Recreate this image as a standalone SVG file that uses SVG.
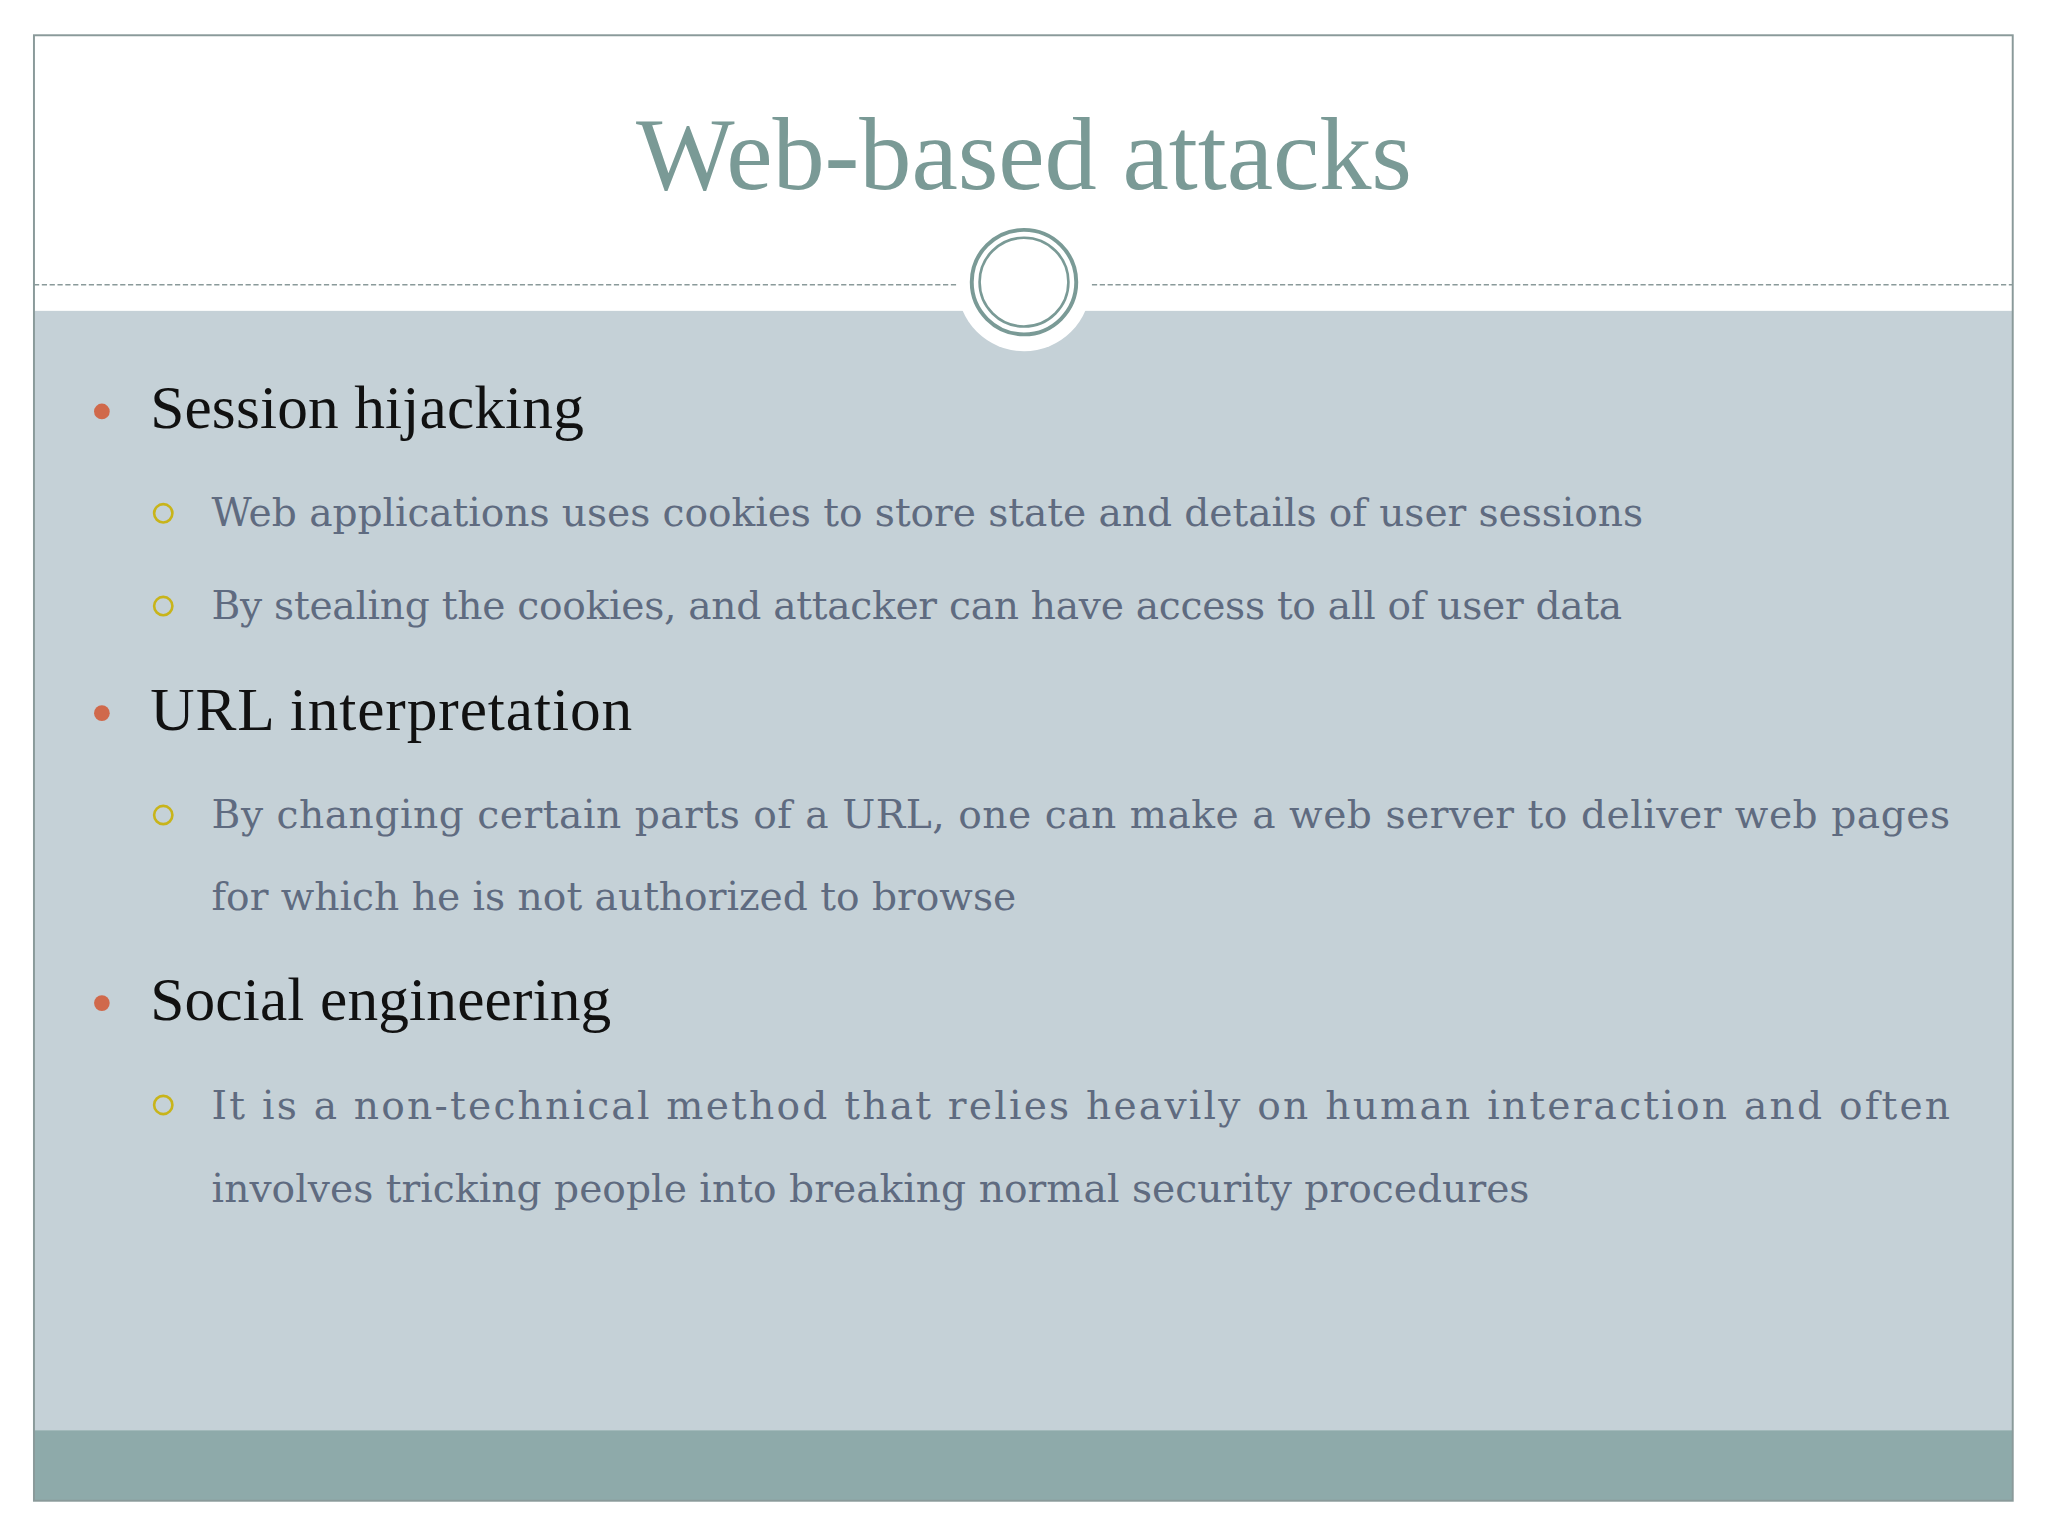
<svg xmlns="http://www.w3.org/2000/svg" width="2048" height="1536" viewBox="0 0 2048 1536">
<style>
.b{fill:#d0694b}
.s{fill:none;stroke:#c8b41a;stroke-width:2}
.h{font-family:"Liberation Serif","DejaVu Serif",serif;font-size:47px;fill:#111}
.t{font-family:"DejaVu Serif","Liberation Serif",serif;font-size:30px;fill:#5f6b80}
</style>
<rect width="2048" height="1536" fill="#fff"/>
<g transform="scale(1.30612)">
<g id="frame">
<rect x="26" y="238" width="1515" height="857" fill="#c5d1d7"/>
<rect x="26" y="1095" width="1515" height="54" fill="#8eaaaa"/>
<rect x="26" y="27" width="1515" height="1122" fill="none" stroke="#8a9a9a" stroke-width="1.5"/>
<line x1="26" y1="218" x2="1541" y2="218" stroke="#8a9a9a" stroke-width="1" stroke-dasharray="4,2"/>
<circle cx="784" cy="218" r="51" fill="#fff"/>
<circle cx="784" cy="216" r="40" fill="none" stroke="#7a9a96" stroke-width="3"/>
<circle cx="784" cy="216" r="34" fill="none" stroke="#7a9a96" stroke-width="2"/>
</g>
<g id="title"><text x="784" y="145" text-anchor="middle" font-family="Liberation Serif, DejaVu Serif, serif" font-size="80" fill="#7a9a96" textLength="594">Web-based attacks</text></g>
<g id="b1">
<circle class="b" cx="78" cy="315" r="6"/>
<text class="h" x="115" y="328" textLength="332">Session hijacking</text>
<circle class="s" cx="125" cy="393" r="7"/>
<text class="t" x="162" y="403" textLength="1096">Web applications uses cookies to store state and details of user sessions</text>
<circle class="s" cx="125" cy="464" r="7"/>
<text class="t" x="162" y="474" textLength="1080">By stealing the cookies, and attacker can have access to all of user data</text>
</g>
<g id="b2">
<circle class="b" cx="78" cy="546" r="6"/>
<text class="h" x="115" y="559" textLength="369">URL interpretation</text>
<circle class="s" cx="125" cy="624" r="7"/>
<text class="t" x="162" y="634" textLength="1331" lengthAdjust="spacing">By changing certain parts of a URL, one can make a web server to deliver web pages</text>
<text class="t" x="162" y="697" textLength="616">for which he is not authorized to browse</text>
</g>
<g id="b3">
<circle class="b" cx="78" cy="768" r="6"/>
<text class="h" x="115" y="781" textLength="353">Social engineering</text>
<circle class="s" cx="125" cy="846" r="7"/>
<text class="t" x="162" y="857" textLength="1331" lengthAdjust="spacing">It is a non-technical method that relies heavily on human interaction and often</text>
<text class="t" x="162" y="920" textLength="1009">involves tricking people into breaking normal security procedures</text>
</g>
</g>
</svg>
